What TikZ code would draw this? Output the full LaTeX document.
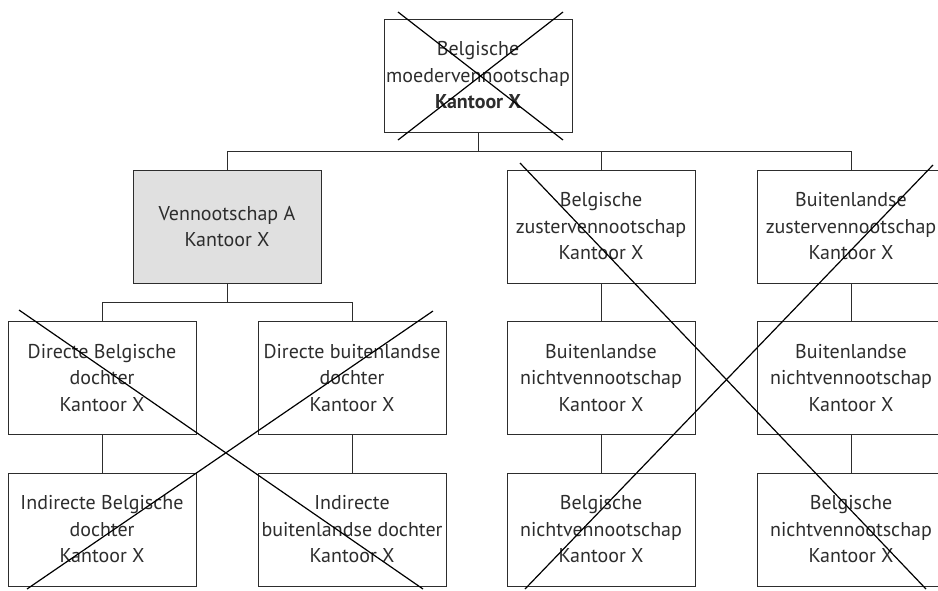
\documentclass[tikz,border=0pt]{standalone}
\usepackage{fontspec}
\setmainfont{PT Sans}
\usetikzlibrary{calc}
\definecolor{boxgray}{RGB}{224,224,224}
\definecolor{inkgray}{RGB}{45,45,45}
\tikzset{%
	entity/.style = {draw=inkgray, rectangle, minimum width=188pt, minimum height=113pt, inner sep=0pt, align=center, text=inkgray, font=\fontsize{20}{26.5}\selectfont, line width=1pt},
	focus/.style  = {entity, fill=boxgray},
	link/.style   = {draw=inkgray, line width=1pt},
	strike/.style = {black, line width=1.2pt},
}
\begin{document}
\begin{tikzpicture}[x=1pt,y=-1pt]
	\useasboundingbox (0,0) rectangle (938,590);
	\clip (0,0) rectangle (938,590);

	% parent
	\node[entity] (moeder) at (478,75.5) {Belgische\\moedervennootschap\\\textbf{Kantoor X}};

	% first level
	\node[focus]  (vennA)  at (227,226.5) {Vennootschap A\\Kantoor X};
	\node[entity] (bzus)   at (601,226.5) {Belgische\\zustervennootschap\\Kantoor X};
	\node[entity] (buzus)  at (851,226.5) {Buitenlandse\\zustervennootschap\\Kantoor X};

	% second level
	\node[entity] (dbel)   at (102,378) {Directe Belgische\\dochter\\Kantoor X};
	\node[entity] (dbui)   at (352,378) {Directe buitenlandse\\dochter\\Kantoor X};
	\node[entity] (bunicht) at (601,378) {Buitenlandse\\nichtvennootschap\\Kantoor X};
	\node[entity] (bunicht2) at (851,378) {Buitenlandse\\nichtvennootschap\\Kantoor X};

	% third level
	\node[entity] (ibel)   at (102,529.5) {Indirecte Belgische\\dochter\\Kantoor X};
	\node[entity] (ibui)   at (352,529.5) {Indirecte\\buitenlandse dochter\\Kantoor X};
	\node[entity] (bnicht) at (601,529.5) {Belgische\\nichtvennootschap\\Kantoor X};
	\node[entity] (bnicht2) at (851,529.5) {Belgische\\nichtvennootschap\\Kantoor X};

	% tree lines
	\foreach \c in {vennA,bzus,buzus} \draw[link] (moeder.south) -- ++(0,19) -| (\c.north);
	\foreach \c in {dbel,dbui} \draw[link] (vennA.south) -- ++(0,19) -| (\c.north);
	\draw[link] (dbel) -- (ibel);
	\draw[link] (dbui) -- (ibui);
	\draw[link] (bzus) -- (bunicht);
	\draw[link] (bunicht) -- (bnicht);
	\draw[link] (buzus) -- (bunicht2);
	\draw[link] (bunicht2) -- (bnicht2);

	% crossed out
	\draw[strike] (398,12) -- (563,140) (563,12) -- (398,140);
	\draw[strike] (19,310) -- (423,589) (433,311) -- (27,589);
	\draw[strike] (520,163) -- (926,589) (933,165) -- (525,589);
\end{tikzpicture}
\end{document}
